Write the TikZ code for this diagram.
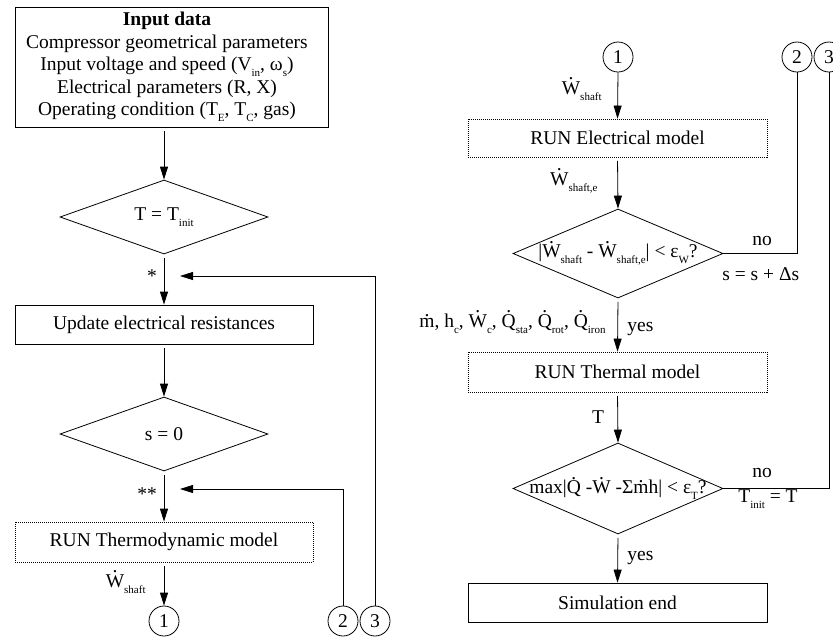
\documentclass[tikz,border=0pt]{standalone}
\usepackage{fontspec}
\setmainfont{Liberation Serif}
\usetikzlibrary{arrows.meta,shapes.geometric}
\newcommand\sbx[1]{\raisebox{-6pt}{\fontsize{11}{11}\selectfont #1}}
\newcommand\od[1]{\leavevmode\vbox{\offinterlineskip\halign{\hfil##\hfil\cr.\cr\noalign{\kern1.5pt}#1\cr}}}
\begin{document}
\begin{tikzpicture}[x=1pt,y=-1pt,
  font=\fontsize{19.5}{22.5}\selectfont,
  line width=0.8pt,
  box/.style={draw, rectangle, inner sep=0pt, minimum width=298pt, minimum height=39pt},
  dbox/.style={box, dash pattern=on 1pt off 1pt},
  dia/.style={draw, diamond, inner sep=0pt},
  conn/.style={draw, circle, minimum size=30pt, inner sep=0pt},
  tip/.style={-{Triangle[length=13pt,width=8pt]}},
  arr/.style={tip, shorten <=3.5pt},
  lbl/.style={inner sep=0pt}
]
\useasboundingbox (0,0) rectangle (833,641);

% ---------- left column ----------
\node[draw, line width=1pt, inner sep=0pt, minimum width=313pt, minimum height=120pt] (inpbox) at (171.5,67) {};
\node[align=center, inner sep=0pt] (inp) at (167,67)
  {\textbf{Input data}\\
   Compressor geometrical parameters\\
   Input voltage and speed (V\sbx{in}, ω\sbx{s})\\
   Electrical parameters (R, X)\\
   Operating condition (T\sbx{E}, T\sbx{C}, gas)};

\node[dia, minimum width=208pt, minimum height=74pt] (d1) at (164,217) {\makebox[0pt]{T = T\sbx{init}}};
\node[box] (b2) at (164,324.5) {Update electrical resistances};
\node[dia, minimum width=208pt, minimum height=74pt] (d2) at (164,434) {\makebox[0pt]{s = 0}};
\node[dbox, minimum height=40pt] (b3) at (164,542) {RUN Thermodynamic model};
\node[conn] (c1L) at (164,621) {1};
\node[conn] (c2L) at (343,621) {2};
\node[conn] (c3L) at (375,621) {3};

\coordinate (f1) at (180,276);
\coordinate (f2) at (180,489);

\draw[arr] (inpbox.south -| d1.north) -- (d1.north);
\draw[arr] (d1.south) -- (b2.north);
\draw[arr] (b2.south) -- (d2.north);
\draw[arr] (d2.south) -- (b3.north);
\draw[arr] (b3.south) -- (c1L.north);
\draw[tip] (c3L.north) |- (f1);
\draw[tip] (c2L.north) |- (f2);

\node[lbl] (ast1) at (152,276) {*};
\node[lbl] (ast2) at (147,494) {**};
\node[lbl, anchor=base east] (lw1) at (146,587) {\od{W}\sbx{shaft}};

% ---------- right column ----------
\node[conn] (c1R) at (618,57) {1};
\node[conn] (c2R) at (797,57) {2};
\node[conn] (c3R) at (829,57) {3};
\node[dbox, minimum width=299pt, minimum height=38pt] (b4) at (617.5,138) {RUN Electrical model};
\node[dia, minimum width=210pt, minimum height=89pt] (d3) at (618,253.5)
  {\makebox[0pt]{|\od{W}\sbx{shaft} - \od{W}\sbx{shaft,e}| < ε\sbx{W}?}};
\node[dbox, minimum width=299pt, minimum height=40pt] (b5) at (617.5,372) {RUN Thermal model};
\node[dia, minimum width=210pt, minimum height=91pt] (d4) at (618,488.5)
  {\makebox[0pt]{max|\od{Q} -\od{W} -Σ\od{m}h| < ε\sbx{T}?}};
\node[box, minimum width=299pt] (b6) at (617.5,602.5) {Simulation end};

\draw[tip] (c1R.south) -- (b4.north);
\draw[arr] (b4.south) -- (d3.north);
\draw (d3.east) -| (c2R.south);
\draw[arr] (d3.south) -- (b5.north);
\draw[arr] (b5.south) -- (d4.north);
\draw (d4.east) -| (c3R.south);
\draw[arr] (d4.south) -- (b6.north);

\node[lbl, anchor=base east] (lw2) at (602,94) {\od{W}\sbx{shaft}};
\node[lbl, anchor=base east] (lw3) at (598,185) {\od{W}\sbx{shaft,e}};
\node[lbl, anchor=base west] (no1) at (752,245) {no};
\node[lbl, anchor=base west] (ss) at (722,280) {s = s + Δs};
\node[lbl, anchor=base east] (qq) at (606,327)
  {\od{m}, h\sbx{c}, \od{W}\sbx{c}, \od{Q}\sbx{sta}, \od{Q}\sbx{rot}, \od{Q}\sbx{iron}};
\node[lbl, anchor=base west] (yes1) at (627,331) {yes};
\node[lbl] (tl) at (598,417) {T};
\node[lbl, anchor=base west] (no2) at (752,477) {no};
\node[lbl, anchor=base west] (ti) at (738,502) {T\sbx{init} = T};
\node[lbl, anchor=base west] (yes2) at (627,560) {yes};
\end{tikzpicture}
\end{document}
